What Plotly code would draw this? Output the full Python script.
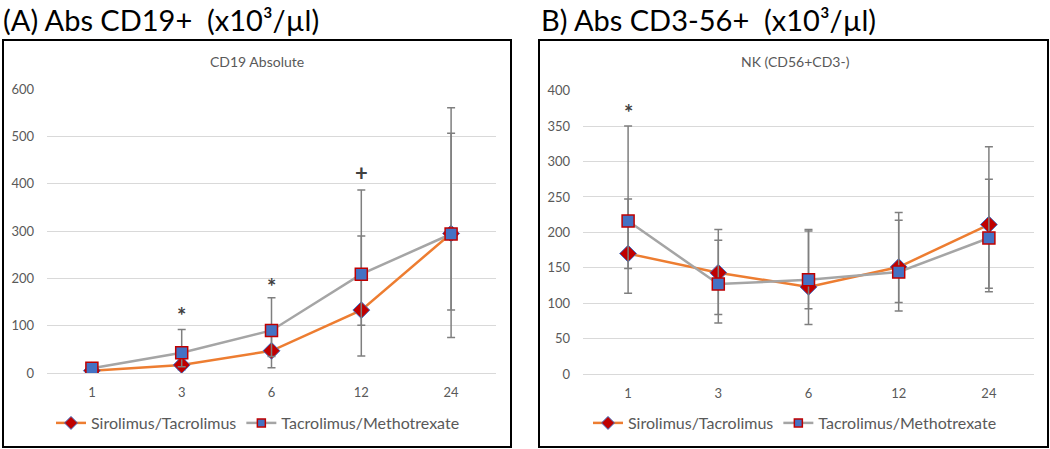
import plotly.graph_objects as go

# ---- data ----
months = ["1", "3", "6", "12", "24"]

# Panel A: CD19 absolute
siro_A = [5, 17, 47, 133, 295]
siro_A_plus = [3, 10, 36, 157, 212]
siro_A_minus = [3, 10, 36, 97, 220]
tacmtx_A = [10, 43, 90, 209, 294]
tacmtx_A_plus = [4, 49, 69, 178, 267]
tacmtx_A_minus = [4, 30, 55, 108, 161]
sig_A_x = ["3", "6", "12"]
sig_A_y = [122, 182, 423]
sig_A_text = ["*", "*", "+"]

# Panel B: NK (CD56+CD3-)
siro_B = [170, 143, 123, 151, 211]
siro_B_plus = [77, 61, 79, 77, 110]
siro_B_minus = [56, 59, 53, 62, 95]
tacmtx_B = [216, 127, 133, 144, 192]
tacmtx_B_plus = [134, 62, 71, 73, 83]
tacmtx_B_minus = [67, 55, 41, 43, 71]
sig_B_x = ["1"]
sig_B_y = [369]
sig_B_text = ["*"]

names = ["Sirolimus/Tacrolimus", "Tacrolimus/Methotrexate"]

ORANGE = "#ED7D31"
GRAY = "#A5A5A5"
DARKRED = "#C00000"
BLUE = "#4472C4"
ERR = "#7F7F7F"
FONT = "Lato, 'Open Sans', sans-serif"

W, H = 1050, 449


def px(x):
    return x / W


def py(y):
    return 1 - y / H


fig = go.Figure()

s_marker = dict(symbol="diamond", size=13, color=DARKRED, line=dict(color=BLUE, width=1))
t_marker = dict(symbol="square", size=12, color=BLUE, line=dict(color=DARKRED, width=1.5))


def add_panel(xa, ya, legend, s_y, s_p, s_m, t_y, t_p, t_m):
    fig.add_trace(go.Scatter(
        x=months, y=s_y, name=names[0], mode="lines+markers",
        xaxis=xa, yaxis=ya, showlegend=False,
        line=dict(color=ORANGE, width=2.5), marker=s_marker,
        error_y=dict(type="data", symmetric=False, array=s_p, arrayminus=s_m,
                     color=ERR, thickness=1.5, width=4),
    ))
    fig.add_trace(go.Scatter(
        x=months, y=t_y, name=names[1], mode="lines+markers",
        xaxis=xa, yaxis=ya, showlegend=False,
        line=dict(color=GRAY, width=2.5), marker=t_marker,
        error_y=dict(type="data", symmetric=False, array=t_p, arrayminus=t_m,
                     color=ERR, thickness=1.5, width=4),
    ))
    # legend entries (smaller symbols, like the original)
    fig.add_trace(go.Scatter(
        x=[None], y=[None], name=names[0], mode="lines+markers",
        xaxis=xa, yaxis=ya, legend=legend,
        line=dict(color=ORANGE, width=2.5),
        marker=dict(symbol="diamond", size=10, color=DARKRED, line=dict(color=BLUE, width=1)),
    ))
    fig.add_trace(go.Scatter(
        x=[None], y=[None], name=names[1], mode="lines+markers",
        xaxis=xa, yaxis=ya, legend=legend,
        line=dict(color=GRAY, width=2.5),
        marker=dict(symbol="square", size=8, color=BLUE, line=dict(color=DARKRED, width=1.5)),
    ))


add_panel("x", "y", "legend", siro_A, siro_A_plus, siro_A_minus,
          tacmtx_A, tacmtx_A_plus, tacmtx_A_minus)
add_panel("x2", "y2", "legend2", siro_B, siro_B_plus, siro_B_minus,
          tacmtx_B, tacmtx_B_plus, tacmtx_B_minus)

axis_common = dict(
    showgrid=True, gridcolor="#D9D9D9", gridwidth=1,
    zeroline=True, zerolinecolor="#D9D9D9", zerolinewidth=1,
    showline=False, ticks="", ticklabelstandoff=12, automargin=False,
    tickfont=dict(family=FONT, size=13, color="#595959"),
)
xcommon = dict(type="category", showgrid=False, zeroline=False, showline=False,
               ticks="", ticklabelstandoff=10, automargin=False,
               tickfont=dict(family=FONT, size=13, color="#595959"),
               range=[-0.5, 4.5])

legend_common = dict(orientation="h", xanchor="center", y=py(423), yanchor="middle",
                     font=dict(family=FONT, size=16, color="#595959"),
                     bgcolor="rgba(0,0,0,0)", tracegroupgap=0)

fig.update_layout(
    width=W, height=H, autosize=False,
    margin=dict(l=0, r=0, t=0, b=0, pad=0),
    paper_bgcolor="white", plot_bgcolor="white",
    font=dict(family=FONT),
    xaxis=dict(domain=[px(47), px(496)], anchor="y", **xcommon),
    yaxis=dict(domain=[py(373), py(89.3)], anchor="x", range=[0, 600],
               dtick=100, **axis_common),
    xaxis2=dict(domain=[px(583), px(1034)], anchor="y2", **xcommon),
    yaxis2=dict(domain=[py(374), py(90.7)], anchor="x2", range=[0, 400],
                dtick=50, **axis_common),
    legend=dict(x=px(258), **legend_common),
    legend2=dict(x=px(795), **legend_common),
    showlegend=True,
)

# panel frames
for x0, x1 in [(3, 511), (539, 1048)]:
    fig.add_shape(type="rect", xref="paper", yref="paper",
                  x0=px(x0), x1=px(x1), y0=py(447), y1=py(40),
                  line=dict(color="black", width=2), fillcolor="rgba(0,0,0,0)")

# panel titles
fig.add_annotation(text="(A) Abs CD19+\u00a0 (x10³/µl)", xref="paper", yref="paper",
                   x=px(1), y=py(19), xanchor="left", yanchor="middle", showarrow=False,
                   font=dict(family=FONT, size=29, color="black"))
fig.add_annotation(text="B) Abs CD3-56+\u00a0 (x10³/µl)", xref="paper", yref="paper",
                   x=px(539), y=py(19), xanchor="left", yanchor="middle", showarrow=False,
                   font=dict(family=FONT, size=29, color="black"))

# chart titles
fig.add_annotation(text="CD19 Absolute", xref="paper", yref="paper",
                   x=px(257), y=py(61), xanchor="center", yanchor="middle", showarrow=False,
                   font=dict(family=FONT, size=14, color="#595959"))
fig.add_annotation(text="NK (CD56+CD3-)", xref="paper", yref="paper",
                   x=px(795), y=py(61), xanchor="center", yanchor="middle", showarrow=False,
                   font=dict(family=FONT, size=14, color="#595959"))

# significance markers (category index positions)
for xs, ys, ts, xr, yr in [(sig_A_x, sig_A_y, sig_A_text, "x", "y"),
                           (sig_B_x, sig_B_y, sig_B_text, "x2", "y2")]:
    for xv, yv, tv in zip(xs, ys, ts):
        fig.add_annotation(text="<b>" + tv + "</b>", x=months.index(xv), y=yv,
                           xref=xr, yref=yr, showarrow=False, yanchor="middle",
                           font=dict(family=FONT, size=22, color="#404040"))

fig.write_html(
    "out.html",
    config={"displayModeBar": False, "responsive": False},
    post_script=(
        "var d=document.documentElement,b=document.body;"
        "[d,b].forEach(function(e){e.style.margin='0';e.style.padding='0';"
        "e.style.overflow='hidden';e.style.height='449px';});"
    ),
)
